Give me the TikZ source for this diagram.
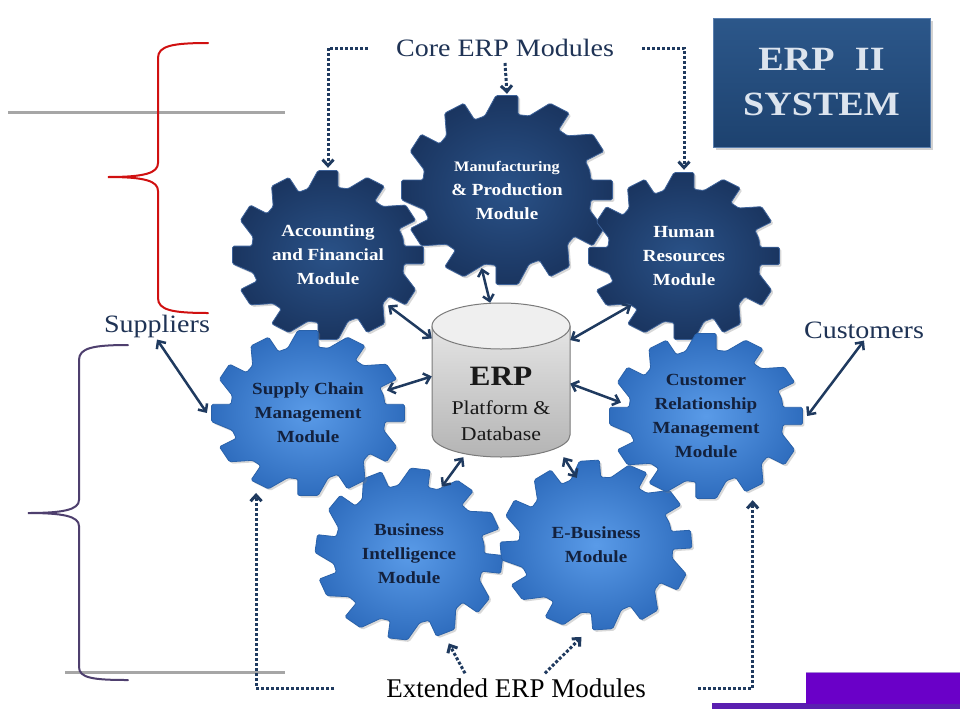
\documentclass[tikz,border=0pt]{standalone}
\usepackage{fontspec}
\setmainfont{Liberation Serif}[FakeStretch=1.12]
\newfontfamily\timesfont{Liberation Serif}
\usetikzlibrary{arrows.meta,calc,shadows,shapes.geometric}
\definecolor{navy}{HTML}{1F3A5F}
\definecolor{labelc}{HTML}{1F3355}
\definecolor{darkin}{HTML}{2A5288}
\definecolor{darkout}{HTML}{1A3560}
\definecolor{darkedge}{HTML}{3D6299}
\definecolor{lightin}{HTML}{5A9BE8}
\definecolor{lightout}{HTML}{2F6DBE}
\definecolor{lightedge}{HTML}{2A62AA}
\definecolor{geartext}{HTML}{13213D}
\definecolor{braceR}{HTML}{D01010}
\definecolor{braceP}{HTML}{4E3F6E}
\definecolor{purpleA}{HTML}{6A00C8}
\definecolor{purpleB}{HTML}{5A1FB0}
\definecolor{purpleL}{HTML}{A888D8}
\definecolor{boxtop}{HTML}{2C578A}
\definecolor{boxbot}{HTML}{1D426F}
\definecolor{boxedge}{HTML}{5A7FAE}
\definecolor{boxtext}{HTML}{DCE4EE}
\definecolor{cylTop}{HTML}{E4E4E4}
\definecolor{cylBot}{HTML}{B4B4B4}
\definecolor{cylEnd}{HTML}{EFEFEF}
\definecolor{cylEdge}{HTML}{7A7A7A}
\definecolor{grayline}{HTML}{A6A6A6}
\tikzset{
  darkgear/.style={inner color=darkin, outer color=darkout, draw=darkedge, line width=0.8pt,
    drop shadow={opacity=0.3, shadow xshift=2pt, shadow yshift=-2pt}},
  lightgear/.style={inner color=lightin, outer color=lightout, draw=lightedge, line width=0.8pt,
    drop shadow={opacity=0.3, shadow xshift=2pt, shadow yshift=-2pt}},
  gearnode/.style={ellipse, inner sep=0pt, align=center},
  whitetxt/.style={text=white, font=\bfseries\fontsize{17}{24}\selectfont},
  darktxt/.style={text=geartext, font=\bfseries\fontsize{17}{24}\selectfont},
  lbl/.style={text=labelc, font=\fontsize{25}{30}\selectfont, inner sep=2pt},
  link/.style={draw=navy, line width=2.5pt,
    {Straight Barb[length=6pt,width=11pt]}-{Straight Barb[length=6pt,width=11pt]}},
  dotlink/.style={draw=navy, line width=3pt, dash pattern=on 3pt off 2pt,
    -{Straight Barb[length=6pt,width=11pt]}},
  bracestyle/.style={line width=2pt, line cap=round},
}
% gear: cx, cy, rx, ry, style, rotation offset
\newcommand\drawgear[6]{%
  \begin{scope}[shift={(#1,#2)}, xscale=#3/85, yscale=#4/85]
    \path[#5, rounded corners=1.5pt] (#6-7.5:68)
      \foreach \i in {0,...,11}{
        -- (#6+\i*30-6:85) -- (#6+\i*30+6:85) -- (#6+\i*30+7.5:68) -- (#6+\i*30+15:68.6)
      } -- cycle;
  \end{scope}}
\begin{document}
\begin{tikzpicture}[x=1pt, y=-1pt]
\useasboundingbox (0,0) rectangle (960,720);
\fill[white] (0,0) rectangle (960,720);

% slide artefacts
\draw[grayline, line width=3pt] (8,112) -- (285,112);
\draw[grayline, line width=3pt] (65,672) -- (285,672);
\draw[braceR, bracestyle] (208,43) .. controls (172,43) and (158,46) .. (158,58) -- (158,163)
  .. controls (158,173) and (145,177) .. (108,177) .. controls (145,177) and (158,181) .. (158,191)
  -- (158,298) .. controls (158,310) and (172,313) .. (208,313);
\draw[braceP, bracestyle] (128,345) .. controls (93,345) and (79,348) .. (79,360) -- (79,500)
  .. controls (79,510) and (62,513) .. (28,513) .. controls (62,513) and (79,516) .. (79,526)
  -- (79,667) .. controls (79,678) and (93,680) .. (128,680);
\fill[purpleB] (712,703) rectangle (960,709);
\fill[purpleA] (806,672) rectangle (960,704);
\draw[purpleL, line width=1.5pt] (806,672.5) -- (960,672.5);

% gears
\drawgear{328}{255}{96}{85}{darkgear}{0}
\drawgear{507}{190}{106}{95}{darkgear}{0}
\drawgear{684}{256}{96}{84}{darkgear}{0}
\drawgear{409}{554}{94}{86}{lightgear}{7}
\drawgear{596}{545}{96}{85}{lightgear}{-4}
\drawgear{308}{413}{97}{83}{lightgear}{0}
\drawgear{706}{416}{97}{83}{lightgear}{0}

% database cylinder
\shade[top color=cylTop, bottom color=cylBot, draw=cylEdge, line width=1pt]
  (432,326) -- (432,435) .. controls (432,447.1) and (462.9,457) .. (501,457)
  .. controls (539.1,457) and (570,447.1) .. (570,435) -- (570,326) -- cycle;
\filldraw[fill=cylEnd, draw=cylEdge, line width=1pt] (501,326) ellipse [x radius=69, y radius=23];

% nodes
\node[gearnode, minimum width=192pt, minimum height=170pt, whitetxt] (acc) at (328,255)
  {Accounting\\and Financial\\Module};
\node[gearnode, minimum width=212pt, minimum height=190pt, whitetxt] (mfg) at (507,190)
  {{\fontsize{14.5}{20}\selectfont Manufacturing}\\\& Production\\Module};
\node[gearnode, minimum width=192pt, minimum height=168pt, whitetxt] (hr) at (684,256)
  {Human\\Resources\\Module};
\node[gearnode, minimum width=194pt, minimum height=166pt, darktxt] (sc) at (308,413)
  {Supply Chain\\Management\\Module};
\node[gearnode, minimum width=194pt, minimum height=166pt, darktxt] (crm) at (706,416)
  {Customer\\Relationship\\Management\\Module};
\node[gearnode, minimum width=188pt, minimum height=172pt, darktxt] (bi) at (409,554)
  {Business\\Intelligence\\Module};
\node[gearnode, minimum width=192pt, minimum height=170pt, darktxt] (eb) at (596,545)
  {E-Business\\Module};
\node[minimum width=138pt, minimum height=154pt, inner sep=0pt] (db) at (501,380) {};
\node[align=center, text=black!90, font=\fontsize{19.5}{26}\selectfont, inner sep=0pt] (dbt) at (501,404)
  {{\bfseries\fontsize{28}{30}\selectfont ERP}\\[3pt]Platform \&\\Database};

\node[lbl] (core) at (505,48) {Core ERP Modules};
\node[lbl] (sup) at (157,326) {Suppliers};
\node[lbl] (cust) at (864,330) {Customers};
\node[text=black, font=\timesfont\fontsize{27}{30}\selectfont, inner sep=2pt] (ext) at (516,688)
  {Extended ERP Modules};

\node[top color=boxtop, bottom color=boxbot, draw=boxedge, line width=1pt,
  minimum width=217pt, minimum height=129pt,
  drop shadow={opacity=0.35, shadow xshift=3pt, shadow yshift=-3pt},
  text=boxtext, font=\bfseries\fontsize{34}{45}\selectfont, align=center] (erp2) at (821.5,82.5)
  {ERP\hspace{0.6em}II\\SYSTEM};

% solid connectors
\draw[link] (sup.south) -- ($(sc)!1.04!(sc.180)$);
\draw[link] (cust.south) -- ($(crm)!1.04!(crm.0)$);
\draw[link] ($(acc)!0.86!(acc.-40)$) -- (db.149);
\draw[link] ($(mfg)!0.855!(mfg.-108)$) -- (db.98);
\draw[link] ($(hr)!0.80!(hr.223)$) -- (db.30);
\draw[link] ($(sc)!0.856!(sc.16)$) -- (db.177);
\draw[link] ($(crm)!0.89!(crm.171)$) -- (db.-3);
\draw[link] ($(bi)!0.854!(bi.64)$) -- (db.-116);
\draw[link] ($(eb)!0.813!(eb.106)$) -- (db.-51);

% dotted connectors
\draw[dotlink] ([xshift=-26pt]core.west) -| ([yshift=2pt]acc.north);
\draw[dotlink] ([yshift=-4pt]core.south) -- ([yshift=1pt]mfg.north);
\draw[dotlink] ([xshift=26pt]core.east) -| ([yshift=2pt]hr.north);
\draw[dotlink] ([xshift=-50pt]ext.west) -| ($(sc)!1.1!(sc.237)$);
\draw[dotlink] ([xshift=-51pt,yshift=3pt]ext.north) -- ($(bi)!1.12!(bi.-66)$);
\draw[dotlink] ([xshift=29pt,yshift=3pt]ext.north) -- ($(eb)!1.09!(eb.-99)$);
\draw[dotlink] ([xshift=50pt]ext.east) -| ($(crm)!1.12!(crm.-61)$);
\end{tikzpicture}
\end{document}
